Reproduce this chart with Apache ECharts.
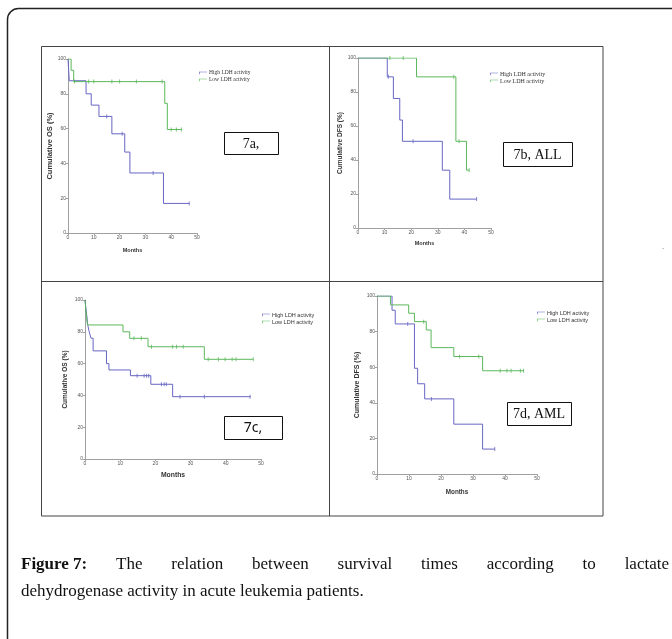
<!DOCTYPE html>
<html>
<head>
<meta charset="utf-8">
<script src="https://cdn.jsdelivr.net/npm/echarts@6/dist/echarts.min.js"></script>
<style>
  html, body { margin: 0; padding: 0; background: #fff; }
  #main { width: 672px; height: 639px; }
</style>
</head>
<body>
<div id="main"></div>
<script>
// Kaplan-Meier curves (time in months, survival in %)
// 7a - cumulative OS
const aHighT = [0, 0.5, 7, 9, 12, 17, 22, 24, 37, 47]
const aHighS = [100, 87.5, 80, 73.5, 67, 57, 46.5, 34.5, 17, 17]
const aHighCens = [15, 21, 33, 47]
const aLowT = [0, 1.2, 2.2, 37.5, 38.5, 44]
const aLowS = [100, 93.5, 87, 74.5, 59.5, 59.5]
const aLowCens = [2.5, 8, 10, 17, 20, 26.5, 36.5, 40, 42, 44]

// 7b - cumulative DFS, ALL
const bHighT = [0, 11, 13.3, 15.7, 16.7, 31.7, 34.5, 44.6]
const bHighS = [100, 88.9, 76.2, 63.5, 51, 34, 17, 17]
const bHighCens = [11.4, 20.7, 44.6]
const bLowT = [0, 22, 36.8, 40.8, 41.8]
const bLowS = [100, 88.9, 51, 34, 34]
const bLowCens = [12, 17, 36, 38, 41.8]

// 7c - cumulative OS
const cHighT = [0, 0.4, 0.8, 1.2, 1.7, 2.3, 6.1, 6.8, 12.9, 18.7, 24.9, 47]
const cHighS = [100, 92, 84, 80, 76, 68, 60, 56, 52.4, 47, 39.2, 39.2]
const cHighCens = [14.8, 16.8, 17.5, 18.1, 21.7, 22.5, 23.1, 27, 33.9, 46.9]
const cLowT = [0, 0.3, 0.7, 10.8, 12.7, 17.9, 33.9, 47.8]
const cLowS = [100, 92, 84.3, 80, 75.9, 70.6, 62.7, 62.7]
const cLowCens = [13.9, 16, 18.9, 24.9, 26, 27.9, 35, 37.9, 39.8, 41.8, 42.9, 47.8]

// 7d - cumulative DFS, AML
const dHighT = [0, 4.7, 5.7, 11.7, 12.7, 14.9, 24, 33, 36.8]
const dHighS = [100, 92, 84.3, 59.4, 50.7, 42.2, 28, 14, 14]
const dHighCens = [9.6, 17, 36.8]
const dLowT = [0, 4.2, 9.9, 11.7, 15.4, 16.9, 24, 33, 45.8]
const dLowS = [100, 95, 90.3, 85.6, 80.9, 71, 66, 58, 58]
const dLowCens = [14.6, 25.8, 31.8, 38.5, 40.6, 41.9, 44.8, 45.8]

const xTicks = [0, 10, 20, 30, 40, 50]
const yTicks = [0, 20, 40, 60, 80, 100]
const highName = 'High LDH activity'
const lowName = 'Low LDH activity'
const yNames = ['Cumulative OS (%)', 'Cumulative DFS (%)', 'Cumulative OS (%)', 'Cumulative DFS (%)']
const tags = ['7a,', '7b, ALL', '7c,', '7d, AML']

const capLine1 = ['Figure 7:', 'The', 'relation', 'between', 'survival', 'times', 'according', 'to', 'lactate']
const capLine2 = 'dehydrogenase activity in acute leukemia patients.'

const BLUE = '#6666c4'
const GREEN = '#5cb85c'

const panels = [
  {hT: aHighT, hS: aHighS, hC: aHighCens, lT: aLowT, lS: aLowS, lC: aLowCens,
   grid: {left: 68, top: 59, width: 129, height: 174}, xGap: 14, yGap: 12, xSize: 5.5, ySize: 7.5,
   legend: {left: 199, top: 70, size: 5.5, font: 'Liberation Serif'},
   tag: {x: 224, y: 132, w: 54, h: 22, font: 'Liberation Serif'}},
  {hT: bHighT, hS: bHighS, hC: bHighCens, lT: bLowT, lS: bLowS, lC: bLowCens,
   grid: {left: 358, top: 58, width: 133, height: 170}, xGap: 12, yGap: 12, xSize: 5.5, ySize: 6.5,
   legend: {left: 490, top: 71, size: 6, font: 'Liberation Serif'},
   tag: {x: 503, y: 142, w: 69, h: 24, font: 'Liberation Serif'}},
  {hT: cHighT, hS: cHighS, hC: cHighCens, lT: cLowT, lS: cLowS, lC: cLowCens,
   grid: {left: 85, top: 300, width: 176, height: 159}, xGap: 13, yGap: 16, xSize: 6.8, ySize: 6.5,
   legend: {left: 262, top: 312, size: 5.5, font: 'Liberation Sans'},
   tag: {x: 224, y: 416, w: 58, h: 23, font: 'Noto Sans'}},
  {hT: dHighT, hS: dHighS, hC: dHighCens, lT: dLowT, lS: dLowS, lC: dLowCens,
   grid: {left: 377, top: 296, width: 160, height: 178}, xGap: 15, yGap: 16, xSize: 6.3, ySize: 7,
   legend: {left: 537, top: 310, size: 5.5, font: 'Liberation Sans'},
   tag: {x: 507, y: 402, w: 64, h: 23, font: 'Liberation Serif'}}
]

function survAt(t, T, S) {
  let v = S[0]
  for (let i = 0; i < T.length; i++) if (T[i] <= t) v = S[i]
  return v
}

const chart = echarts.init(document.getElementById('main'))

let grids = [], xAxes = [], yAxes = [], series = [], legends = [], graphics = []

panels.forEach((p, i) => {
  grids.push({...p.grid})
  xAxes.push({
    type: 'value', gridIndex: i, min: xTicks[0], max: xTicks[xTicks.length - 1], interval: 10,
    name: 'Months', nameLocation: 'middle', nameGap: p.xGap,
    nameTextStyle: {fontSize: p.xSize, fontWeight: 'bold', color: '#333', fontFamily: 'Liberation Sans'},
    axisLine: {lineStyle: {color: '#a0a0a0', width: 1}},
    axisTick: {length: 2, lineStyle: {color: '#a0a0a0'}},
    axisLabel: {fontSize: 5, color: '#555', margin: 2},
    splitLine: {show: false}
  })
  yAxes.push({
    type: 'value', gridIndex: i, min: yTicks[0], max: yTicks[yTicks.length - 1], interval: 20,
    name: yNames[i], nameLocation: 'middle', nameGap: p.yGap, nameRotate: 90,
    nameTextStyle: {fontSize: p.ySize, fontWeight: 'bold', color: '#333', fontFamily: 'Liberation Sans'},
    axisLine: {show: true, lineStyle: {color: '#a0a0a0', width: 1}},
    axisTick: {show: true, length: 2, lineStyle: {color: '#a0a0a0'}},
    axisLabel: {fontSize: 5, color: '#555', margin: 2},
    splitLine: {show: false}
  })
  const lines = [
    {name: highName, T: p.hT, S: p.hS, C: p.hC, color: BLUE},
    {name: lowName, T: p.lT, S: p.lS, C: p.lC, color: GREEN}
  ]
  lines.forEach(l => {
    series.push({
      type: 'line', name: l.name, xAxisIndex: i, yAxisIndex: i, step: 'end',
      showSymbol: false, silent: true, color: l.color,
      lineStyle: {color: l.color, width: 1},
      data: l.T.map((t, k) => [t, l.S[k]])
    })
    series.push({
      type: 'scatter', name: l.name + ' censored', xAxisIndex: i, yAxisIndex: i,
      symbol: 'rect', symbolSize: [1, 4], silent: true,
      itemStyle: {color: l.color},
      data: l.C.map(t => [t, survAt(t, l.T, l.S)])
    })
  })
  legends.push({
    data: [highName, lowName], orient: 'vertical', left: p.legend.left, top: p.legend.top,
    itemWidth: 8, itemHeight: 4, itemGap: 1, padding: 0, selectedMode: false,
    icon: 'path://M0,4V0H12V1H1V4Z',
    textStyle: {fontSize: p.legend.size, color: '#333', fontFamily: p.legend.font, padding: [0, 0, 0, -3]}
  })
  graphics.push({
    type: 'rect', shape: {x: p.tag.x + 0.5, y: p.tag.y + 0.5, width: p.tag.w, height: p.tag.h},
    style: {fill: '#fff', stroke: '#111', lineWidth: 1}
  })
  graphics.push({
    type: 'text', x: p.tag.x + p.tag.w / 2, y: p.tag.y + p.tag.h / 2 + 1,
    style: {text: tags[i], fill: '#111', font: '14px "' + p.tag.font + '"', align: 'center', verticalAlign: 'middle'}
  })
})

// frames
graphics.push({type: 'rect', shape: {x: 7.5, y: 8.5, width: 720, height: 720, r: 11},
  style: {fill: 'none', stroke: '#222', lineWidth: 1.5}})
graphics.push({type: 'rect', shape: {x: 41.5, y: 46.5, width: 561.5, height: 469.5},
  style: {fill: 'none', stroke: '#444', lineWidth: 1}})
graphics.push({type: 'line', shape: {x1: 329.5, y1: 46, x2: 329.5, y2: 516}, style: {stroke: '#444', lineWidth: 1}})
graphics.push({type: 'line', shape: {x1: 41, y1: 281.5, x2: 603, y2: 281.5}, style: {stroke: '#444', lineWidth: 1}})
graphics.push({type: 'text', x: 662, y: 243, style: {text: '.', fill: '#555', font: '8px "Liberation Sans"'}})

// caption, first line justified
const capSize = 17
const capLeft = 21, capRight = 669
const ctx = document.createElement('canvas').getContext('2d')
const fontFor = k => (k < 1 ? 'bold ' : '') + capSize + 'px "Liberation Serif"'
const widths = capLine1.map((w, k) => { ctx.font = fontFor(k); return ctx.measureText(w).width })
const gap = (capRight - capLeft - widths.reduce((a, b) => a + b, 0)) / (capLine1.length - 1)
let cx = capLeft
capLine1.forEach((w, k) => {
  graphics.push({type: 'text', x: cx, y: 565,
    style: {text: w, fill: '#111', font: fontFor(k), align: 'left', verticalAlign: 'middle'}})
  cx += widths[k] + gap
})
graphics.push({type: 'text', x: capLeft, y: 592,
  style: {text: capLine2, fill: '#111', font: capSize + 'px "Liberation Serif"', align: 'left', verticalAlign: 'middle'}})

chart.setOption({
  animation: false,
  grid: grids,
  xAxis: xAxes,
  yAxis: yAxes,
  legend: legends,
  series: series,
  graphic: graphics
})
</script>
</body>
</html>
